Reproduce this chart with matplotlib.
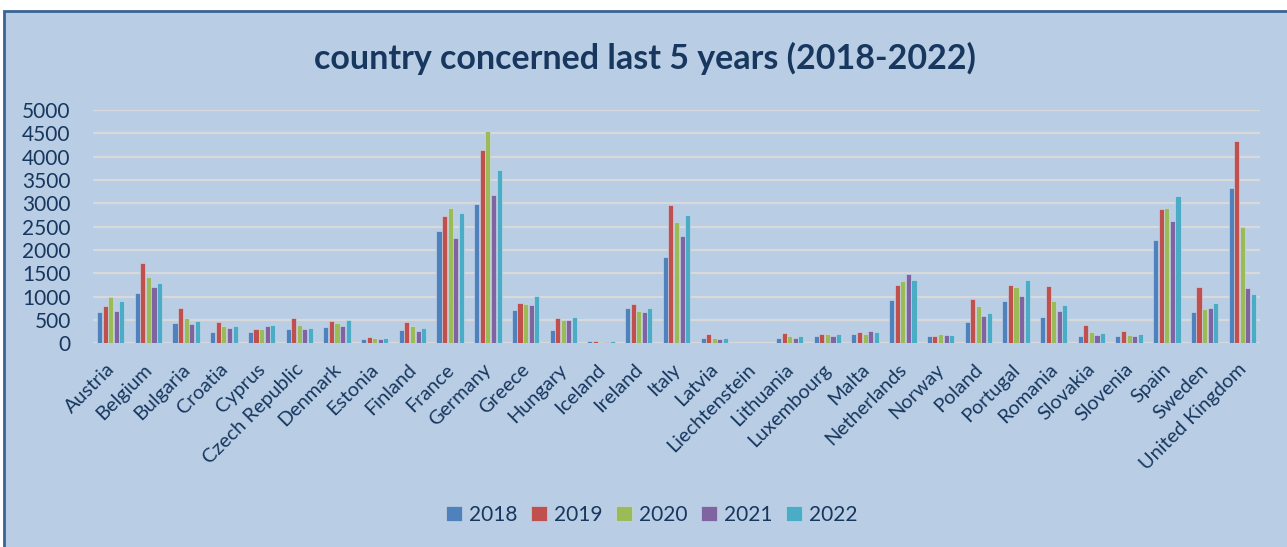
import numpy as np
import matplotlib.pyplot as plt
from matplotlib.patches import Rectangle
from matplotlib.transforms import ScaledTranslation

countries = ["Austria", "Belgium", "Bulgaria", "Croatia", "Cyprus", "Czech Republic",
             "Denmark", "Estonia", "Finland", "France", "Germany", "Greece", "Hungary",
             "Iceland", "Ireland", "Italy", "Latvia", "Liechtenstein", "Lithuania",
             "Luxembourg", "Malta", "Netherlands", "Norway", "Poland", "Portugal",
             "Romania", "Slovakia", "Slovenia", "Spain", "Sweden", "United Kingdom"]

years = ["2018", "2019", "2020", "2021", "2022"]

v2018 = [678, 1078, 428, 236, 243, 300, 357, 100, 286, 2413, 2977, 714, 286, 43, 764,
         1842, 114, 10, 114, 164, 193, 928, 157, 457, 907, 571, 157, 150, 2213, 671, 3334]
v2019 = [800, 1714, 757, 450, 300, 550, 471, 136, 457, 2728, 4141, 857, 543, 50, 835,
         2956, 193, 5, 221, 207, 236, 1250, 150, 943, 1243, 1221, 400, 257, 2878, 1214, 4341]
v2020 = [985, 1414, 550, 378, 314, 400, 428, 107, 364, 2899, 4548, 835, 493, 21, 693,
         2592, 107, 3, 164, 200, 207, 1328, 193, 800, 1200, 900, 236, 178, 2892, 728, 2485]
v2021 = [693, 1207, 421, 336, 364, 314, 378, 86, 264, 2256, 3184, 821, 493, 21, 664,
         2292, 93, 4, 114, 164, 271, 1485, 186, 586, 1014, 693, 186, 150, 2620, 757, 1185]
v2022 = [907, 1300, 478, 371, 386, 321, 500, 121, 328, 2799, 3720, 1007, 557, 43, 750,
         2742, 107, 6, 164, 193, 250, 1357, 171, 657, 1357, 814, 228, 200, 3149, 857, 1050]

colors = ["#4F81BD", "#C0504D", "#9BBB59", "#8064A2", "#4BACC6"]
text_color = "#17375E"

plt.rcParams['font.family'] = ['Lato', 'DejaVu Sans']

fig = plt.figure(figsize=(12.87, 5.47), dpi=100, facecolor="white")
W, H = 1287, 547
fig.patches.append(Rectangle((4 / W, -0.05), 1.1, 1 - 11 / H + 0.05,
                             transform=fig.transFigure, facecolor="#B9CDE5",
                             edgecolor="#3A6496", linewidth=2, zorder=-10))

ax = fig.add_axes([93 / W, (H - 343.3) / H, (1260 - 93) / W, (343.3 - 110) / H])
ax.set_facecolor("none")

x = np.arange(len(countries))
step = 0.148
width = 0.135
for i, (yr, vals) in enumerate(zip(years, [v2018, v2019, v2020, v2021, v2022])):
    ax.bar(x + (i - 2) * step, vals, width, color=colors[i], label=yr,
           edgecolor="#D0DDEE", linewidth=0.4, zorder=3)

ax.set_xlim(-0.47, len(countries) - 0.53)
ax.set_ylim(0, 5000)
ax.set_yticks(np.arange(0, 5001, 500))
ax.grid(axis="y", color="#D9D9D9", linewidth=1.6, zorder=0)
ax.set_axisbelow(True)
for s in ax.spines.values():
    s.set_visible(False)
ax.tick_params(axis="both", length=0, colors=text_color)
ax.tick_params(axis="y", labelsize=15, pad=16)
ax.set_xticks(x)
ax.set_xticklabels(countries, rotation=45, ha="right", rotation_mode="anchor",
                   fontsize=14.3, color=text_color)
ax.tick_params(axis="x", pad=6)
shift = ScaledTranslation(-5 / 100, -9 / 100, fig.dpi_scale_trans)
for lbl in ax.get_xticklabels():
    lbl.set_transform(lbl.get_transform() + shift)

fig.text(0.501, 1 - 58 / H, "country concerned last 5 years (2018-2022)",
         ha="center", va="center", fontsize=24.5, fontweight="bold", color=text_color)

ax.legend(loc="center", bbox_to_anchor=(0.479, (343.3 - 515) / (343.3 - 110)),
          ncol=5, frameon=False, fontsize=15, handlelength=0.75, handleheight=0.75,
          handletextpad=0.35, columnspacing=0.65, labelcolor=text_color)

fig.savefig("out.png", dpi=100, facecolor=fig.get_facecolor())
